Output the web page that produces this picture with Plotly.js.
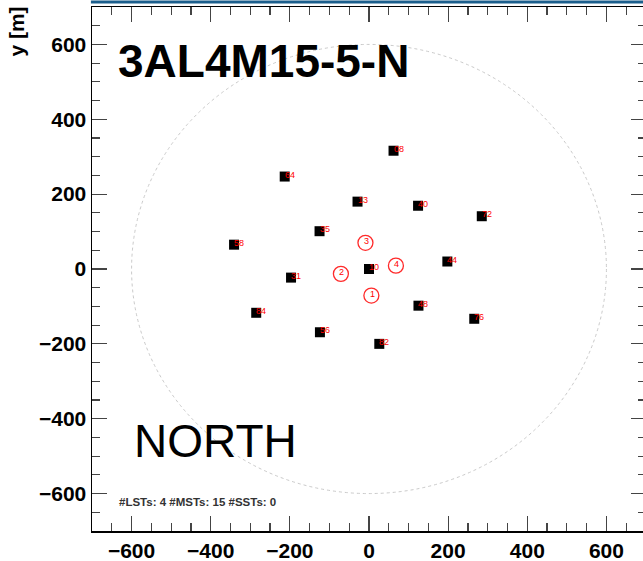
<!DOCTYPE html>
<html>
<head>
<meta charset="utf-8">
<script src="https://cdn.plot.ly/plotly-3.0.1.min.js"></script>
<style>
html,body{margin:0;padding:0;background:#fff;overflow:hidden;}
#chart{width:650px;height:561px;}
</style>
</head>
<body>
<div id="chart"></div>
<script>
// MST telescopes (squares)
const mstIds = ["08","64","13","40","72","35","58","44","10","31","48","84","56","76","82"];
const mstX = [62, -213, -29, 124, 285, -125, -341, 198, 0, -197, 125, -285, -124, 266, 26];
const mstY = [316, 247, 180, 169, 141, 101, 65, 20, 0, -23, -98, -117, -169, -133, -200];
// LST telescopes (circles)
const lstIds = ["1","2","3","4"];
const lstX = [6, -71, -9, 68];
const lstY = [-71, -13, 70, 9];
// array radius (dashed circle)
const fieldRadius = [600];
const xTicks = [-600, -400, -200, 0, 200, 400, 600];
const yTicks = [-600, -400, -200, 0, 200, 400, 600];
const axisRange = [-700, 700];
const titleText = "3AL4M15-5-N";
const siteText = "NORTH";
const statsText = "#LSTs: 4 #MSTs: 15 #SSTs: 0";
const yTitle = "y [m]";

const FONT = "Liberation Sans, Arial, Helvetica, sans-serif";

const traces = [
  {
    type: 'scatter', mode: 'markers', x: mstX, y: mstY,
    marker: {symbol: 'square', size: 10, color: '#000', line: {width: 0}},
    hoverinfo: 'skip', showlegend: false
  },
  {
    type: 'scatter', mode: 'markers', x: lstX, y: lstY,
    marker: {symbol: 'circle-open', size: 15, color: '#ff2a2a', line: {width: 1.3, color: '#ff2a2a'}},
    hoverinfo: 'skip', showlegend: false
  }
];

const annotations = [];
mstIds.forEach((id, i) => {
  annotations.push({x: mstX[i], y: mstY[i], xref: 'x', yref: 'y', text: id, showarrow: false,
    xanchor: 'left', yanchor: 'middle', xshift: -2, yshift: 2,
    font: {family: FONT, size: 9, color: '#ff0000'}});
});
lstIds.forEach((id, i) => {
  annotations.push({x: lstX[i], y: lstY[i], xref: 'x', yref: 'y', text: id, showarrow: false,
    xanchor: 'center', yanchor: 'middle', xshift: 1, yshift: 2,
    font: {family: FONT, size: 9, color: '#ff0000'}});
});
annotations.push({xref: 'paper', yref: 'paper', x: 0.043, y: 0.896, text: titleText, showarrow: false,
  xanchor: 'left', yanchor: 'middle', font: {family: FONT, size: 46, color: '#000', weight: 'bold'}});
annotations.push({xref: 'paper', yref: 'paper', x: 0.073, y: 0.171, text: siteText, showarrow: false,
  xanchor: 'left', yanchor: 'middle', font: {family: FONT, size: 46, color: '#000'}});
annotations.push({xref: 'paper', yref: 'paper', x: 0.045, y: 0.0553, text: statsText, showarrow: false,
  xanchor: 'left', yanchor: 'middle', font: {family: FONT, size: 11.5, color: '#333', weight: 'bold'}});
annotations.push({xref: 'paper', yref: 'paper', x: -0.136, y: 1.004, text: yTitle, showarrow: false,
  textangle: -90, xanchor: 'center', yanchor: 'top', font: {family: FONT, size: 21, color: '#000', weight: 'bold'}});

const axisCommon = {
  range: axisRange, autorange: false, tickmode: 'array',
  ticks: 'inside', ticklen: 15, tickwidth: 1.2, tickcolor: '#444',
  minor: {dtick: 50, tick0: 0, ticks: 'inside', ticklen: 8, tickwidth: 1.2, tickcolor: '#444', showgrid: false},
  showline: true, linecolor: '#000', linewidth: 1.5, mirror: 'ticks',
  showgrid: false, zeroline: false,
  tickfont: {family: FONT, size: 21, color: '#000', weight: 'bold'}
};

const layout = {
  width: 650, height: 561,
  margin: {l: 92, r: 4, t: 7, b: 30},
  paper_bgcolor: '#fff', plot_bgcolor: '#fff',
  showlegend: false,
  xaxis: Object.assign({}, axisCommon, {tickvals: xTicks, ticktext: xTicks.map(v => v < 0 ? '\u2212' + Math.abs(v) : String(v))}),
  yaxis: Object.assign({}, axisCommon, {tickvals: yTicks, ticktext: yTicks.map(v => v < 0 ? '\u2212' + Math.abs(v) : String(v))}),
  shapes: [
    {type: 'circle', xref: 'x', yref: 'y', x0: -fieldRadius[0], y0: -fieldRadius[0], x1: fieldRadius[0], y1: fieldRadius[0],
      line: {color: '#cacaca', width: 1, dash: '3px,3px'}, layer: 'below'},
    {type: 'line', xref: 'paper', yref: 'paper', x0: -0.002, x1: 1.1, y0: 1 + 5/524, y1: 1 + 5/524,
      line: {color: '#1b5e8c', width: 3}}
  ],
  annotations: annotations
};

Plotly.newPlot('chart', traces, layout, {staticPlot: true, displayModeBar: false});
</script>
</body>
</html>
